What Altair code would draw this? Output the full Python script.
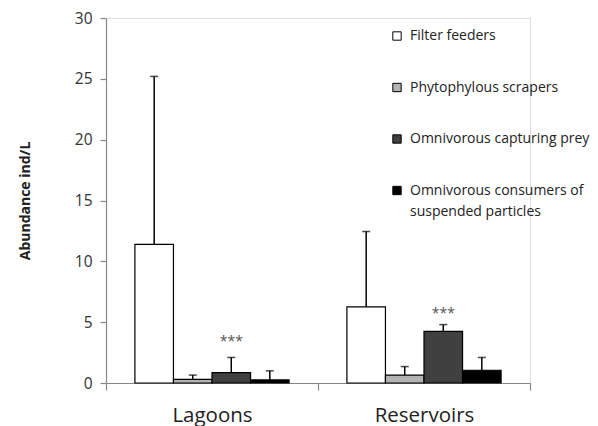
import altair as alt
import pandas as pd

regions = ["Lagoons"] * 4 + ["Reservoirs"] * 4
groups_order = ["Filter feeders", "Phytophylous scrapers", "Omnivorous capturing prey",
                "Omnivorous consumers of suspended particles"]
groups = groups_order * 2
means = [11.4, 0.3, 0.85, 0.25, 6.25, 0.65, 4.25, 1.05]
uppers = [25.2, 0.65, 2.1, 1.0, 12.45, 1.35, 4.8, 2.1]
colors = ["#ffffff", "#b3b3b3", "#404040", "#000000"]

star_regions = ["Lagoons", "Reservoirs"]
star_groups = ["Omnivorous capturing prey", "Omnivorous capturing prey"]
star_y = [3.35, 5.65]

df = pd.DataFrame({"region": regions, "group": groups, "mean": means, "upper": uppers})
stars = pd.DataFrame({"region": star_regions, "group": star_groups, "y": star_y, "t": ["***"] * 2})

FONT = "Open Sans"

x = alt.X("region:N", title=None, sort=["Lagoons", "Reservoirs"],
          scale=alt.Scale(paddingInner=0, paddingOuter=0),
          axis=alt.Axis(labelAngle=0, labelFontSize=20.5, labelColor="#222222", labelFont=FONT,
                        labelPadding=15, tickBand="extent", tickSize=7, tickColor="#888888",
                        domainColor="#888888", domainWidth=1.2, tickWidth=1.2))
xo = alt.XOffset("group:N", sort=groups_order,
                 scale=alt.Scale(paddingOuter=0.75, paddingInner=0))
yscale = alt.Scale(domain=[0, 30], nice=False)

bars = alt.Chart(df).mark_bar(stroke="black", strokeWidth=1.2).encode(
    x=x, xOffset=xo,
    y=alt.Y("mean:Q", scale=yscale, title="Abundance ind/L",
            axis=alt.Axis(values=[0, 5, 10, 15, 20, 25, 30], grid=False, tickSize=6,
                          tickColor="#888888", domainColor="#888888", domainWidth=1.2,
                          tickWidth=1.2, labelFontSize=15.5, labelFont=FONT, labelColor="#333333",
                          labelPadding=8, titleFontSize=14, titleFont=FONT,
                          titleFontWeight="bold", titleColor="#222222", titlePadding=42)),
    fill=alt.Fill("group:N", sort=groups_order,
                  scale=alt.Scale(domain=groups_order, range=colors),
                  legend=alt.Legend(title=None, orient="none", legendX=284, legendY=11,
                                    symbolType="square", symbolSize=70,
                                    symbolStrokeColor="black", symbolStrokeWidth=1,
                                    labelFontSize=14, labelFont=FONT, labelColor="#222222",
                                    labelLimit=400, rowPadding=37.5, labelOffset=6,
                                    labelExpr="datum.label == 'Omnivorous consumers of suspended particles' ? ['Omnivorous consumers of', 'suspended particles'] : datum.label")),
)

err = alt.Chart(df).mark_rule(color="black", strokeWidth=1.5).encode(
    x=x, xOffset=xo, y=alt.Y("mean:Q", scale=yscale), y2="upper:Q")

caps = alt.Chart(df).mark_tick(color="black", size=8, thickness=1.5).encode(
    x=x, xOffset=xo, y=alt.Y("upper:Q", scale=yscale))

star_text = alt.Chart(stars).mark_text(fontSize=14, font=FONT, color="#555555", baseline="middle").encode(
    x=x, xOffset=xo, y=alt.Y("y:Q", scale=yscale), text="t:N")

chart = alt.layer(bars, err, caps, star_text).properties(
    width=424, height=365,
    autosize=alt.AutoSizeParams(type="none"),
    padding={"left": 106, "top": 18, "right": 68, "bottom": 43},
).configure_view(stroke=None).configure(
    background="white",
    style={"guide-label": {"lineHeight": 21}},
)

chart.save("out.html", embed_options={"renderer": "svg", "actions": False})
